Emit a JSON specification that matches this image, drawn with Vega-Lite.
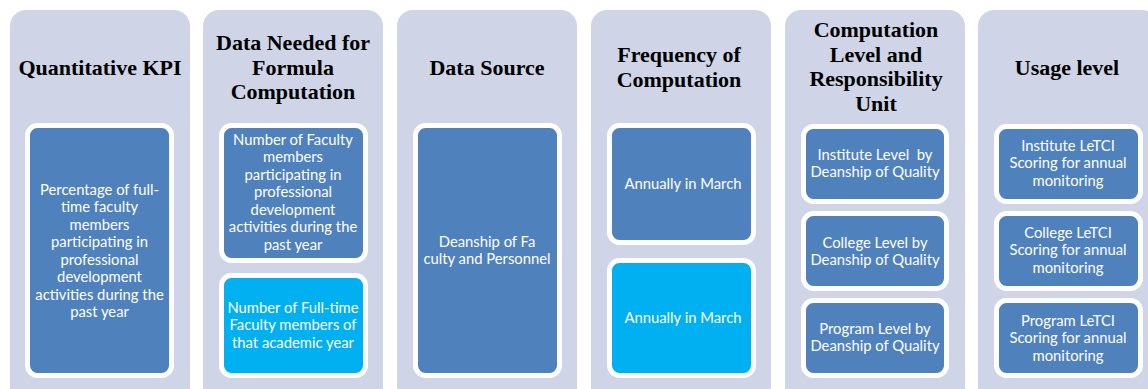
{
  "$schema": "https://vega.github.io/schema/vega-lite/v6.json",
  "width": 1148,
  "height": 389,
  "autosize": {"type": "fit", "contains": "padding"},
  "padding": 0,
  "background": "#ffffff",
  "config": {"view": {"stroke": null}},
  "datasets": {
    "columns": [
      {"col": "Quantitative KPI", "x": 10, "x2": 190, "y": 10, "y2": 405},
      {"col": "Data Needed", "x": 203, "x2": 383, "y": 10, "y2": 405},
      {"col": "Data Source", "x": 397, "x2": 577, "y": 10, "y2": 405},
      {"col": "Frequency", "x": 591, "x2": 771, "y": 10, "y2": 405},
      {"col": "Computation Level", "x": 785, "x2": 965, "y": 10, "y2": 405},
      {"col": "Usage level", "x": 978, "x2": 1158, "y": 10, "y2": 405}
    ],
    "titles": [
      {"label": ["Quantitative KPI"], "x": 100, "y": 68},
      {"label": ["Data Needed for", "Formula", "Computation"], "x": 293, "y": 43},
      {"label": ["Data Source"], "x": 487, "y": 68},
      {"label": ["Frequency of", "Computation"], "x": 679, "y": 55},
      {"label": ["Computation", "Level and", "Responsibility", "Unit"], "x": 876, "y": 30},
      {"label": ["Usage level"], "x": 1067, "y": 68}
    ],
    "boxes": [
      {"kind": "primary", "x": 27.5, "x2": 171.5, "y": 125.5, "y2": 375.5, "tx": 99.5, "ty": 190.5, "label": ["Percentage of full-", "time faculty", "members", "participating in", "professional", "development", "activities during the", "past year"]},
      {"kind": "primary", "x": 221.5, "x2": 365.5, "y": 125.5, "y2": 260.5, "tx": 293, "ty": 140.5, "label": ["Number of Faculty", "members", "participating in", "professional", "development", "activities during the", "past year"]},
      {"kind": "secondary", "x": 221.5, "x2": 365.5, "y": 275.5, "y2": 375.5, "tx": 293, "ty": 308.5, "label": ["Number of Full-time", "Faculty members of", "that academic year"]},
      {"kind": "primary", "x": 415.5, "x2": 559.5, "y": 125.5, "y2": 375.5, "tx": 487, "ty": 242.5, "label": ["Deanship of Fa", "culty and Personnel"]},
      {"kind": "primary", "x": 609.5, "x2": 753.5, "y": 125.5, "y2": 242.5, "tx": 683, "ty": 184.5, "label": ["Annually in March"]},
      {"kind": "secondary", "x": 609.5, "x2": 753.5, "y": 260.5, "y2": 375.5, "tx": 683, "ty": 318.5, "label": ["Annually in March"]},
      {"kind": "primary", "x": 803.5, "x2": 946.5, "y": 126.5, "y2": 201.5, "tx": 875, "ty": 155.5, "label": ["Institute Level\u00a0 by", "Deanship of Quality"]},
      {"kind": "primary", "x": 803.5, "x2": 946.5, "y": 213.5, "y2": 288.5, "tx": 875, "ty": 243.5, "label": ["College Level by", "Deanship of Quality"]},
      {"kind": "primary", "x": 803.5, "x2": 946.5, "y": 300.5, "y2": 375.5, "tx": 875, "ty": 329.5, "label": ["Program Level by", "Deanship of Quality"]},
      {"kind": "primary", "x": 996.5, "x2": 1140.5, "y": 126.5, "y2": 201.5, "tx": 1068, "ty": 146.5, "label": ["Institute LeTCI", "Scoring for annual", "monitoring"]},
      {"kind": "primary", "x": 996.5, "x2": 1140.5, "y": 213.5, "y2": 288.5, "tx": 1068, "ty": 233.5, "label": ["College LeTCI", "Scoring for annual", "monitoring"]},
      {"kind": "primary", "x": 996.5, "x2": 1140.5, "y": 300.5, "y2": 375.5, "tx": 1068, "ty": 321.5, "label": ["Program LeTCI", "Scoring for annual", "monitoring"]}
    ]
  },
  "layer": [
    {
      "data": {"name": "columns"},
      "mark": {"type": "rect", "fill": "#cfd5e6", "cornerRadius": 16, "clip": true},
      "encoding": {
        "x": {"field": "x", "type": "quantitative", "scale": {"domain": [0, 1148], "nice": false, "zero": false}, "axis": null},
        "x2": {"field": "x2"},
        "y": {"field": "y", "type": "quantitative", "scale": {"domain": [0, 389], "nice": false, "zero": false, "reverse": true}, "axis": null},
        "y2": {"field": "y2"}
      }
    },
    {
      "data": {"name": "titles"},
      "mark": {"type": "text", "font": "Liberation Serif", "fontWeight": "bold", "fontSize": 22, "color": "#000000", "align": "center", "baseline": "middle", "lineHeight": 24.5},
      "encoding": {
        "x": {"field": "x", "type": "quantitative"},
        "y": {"field": "y", "type": "quantitative"},
        "text": {"field": "label"}
      }
    },
    {
      "data": {"name": "boxes"},
      "mark": {"type": "rect", "stroke": "#ffffff", "strokeWidth": 5, "cornerRadius": 10},
      "encoding": {
        "x": {"field": "x", "type": "quantitative"},
        "x2": {"field": "x2"},
        "y": {"field": "y", "type": "quantitative"},
        "y2": {"field": "y2"},
        "fill": {"field": "kind", "type": "nominal", "scale": {"domain": ["primary", "secondary"], "range": ["#4f81bd", "#00b0f0"]}, "legend": null}
      }
    },
    {
      "data": {"name": "boxes"},
      "mark": {"type": "text", "font": "Lato", "fontSize": 14.8, "color": "#ffffff", "align": "center", "baseline": "middle", "lineHeight": 17.5},
      "encoding": {
        "x": {"field": "tx", "type": "quantitative"},
        "y": {"field": "ty", "type": "quantitative"},
        "text": {"field": "label"}
      }
    }
  ]
}
